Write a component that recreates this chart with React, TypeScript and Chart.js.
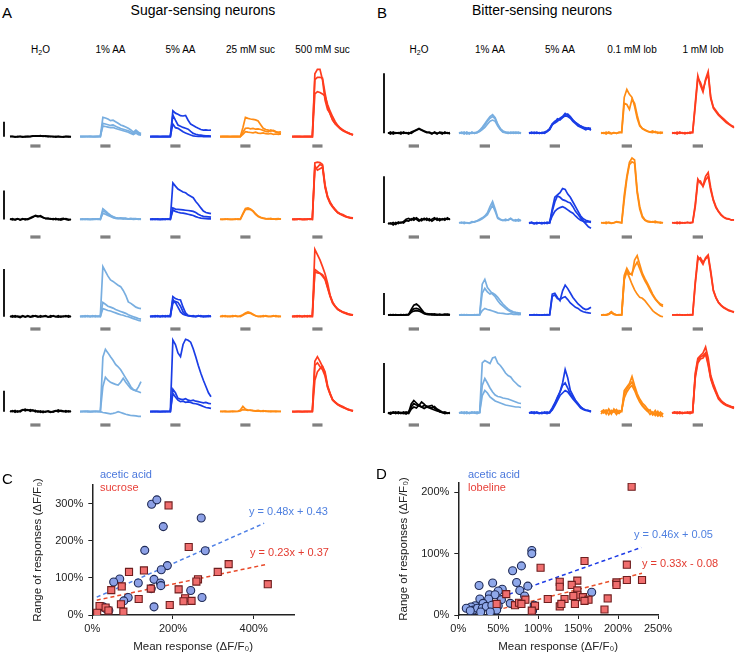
import React, { useEffect, useRef } from "react";
import { Chart, registerables } from "chart.js";

Chart.register(...registerables);

const FONT = '"Liberation Sans", Arial, Helvetica, sans-serif';
Chart.defaults.font.family = FONT;

// ---------- shared trace axis ----------
const timePoints = [0, 1, 2, 3, 4, 5, 6, 7, 8, 9, 10, 11, 12, 13, 14, 15, 16, 17, 18, 19, 20, 21, 22, 23, 24];
const stimWindow = [8, 12];
const scaleBarValue = 100; // % dF/F represented by the vertical scale bar

const sugarStimuli = ["H2O", "1% AA", "5% AA", "25 mM suc", "500 mM suc"];
const bitterStimuli = ["H2O", "1% AA", "5% AA", "0.1 mM lob", "1 mM lob"];
const traceColors = ["#000000", "#78aee0", "#1a3de6", "#ff8c14", "#ff3c1e"];

// ---------- A: sugar-sensing neurons (% dF/F) ----------
const sugarR1_H2O = [
  [0, 3, -2, 2, 0, -3, 2, 0, 2, 5, 4, 6, 3, 5, 2, 4, 0, 3, -2, 2, 0, -3, 2, -1, 0],
  [2, 0, 1, -2, 3, 1, -1, 2, 0, 3, 6, 4, 7, 2, 5, 1, 3, -1, 2, 0, -2, 1, 0, 2, -1],
];
const sugarR1_AA1 = [
  [0, 2, 0, 3, 1, 0, 2, 1, 3, 129, 125, 118, 107, 110, 100, 90, 78, 72, 65, 56, 45, 30, 44, 30, 22],
  [2, 0, 1, 0, 3, 1, 0, 2, 0, 89, 85, 80, 75, 78, 70, 62, 55, 50, 45, 40, 32, 20, 35, 22, 15],
  [0, 1, 3, 0, 2, 0, 1, 3, 2, 71, 68, 64, 60, 62, 55, 50, 45, 40, 35, 30, 22, 15, 25, 14, 10],
];
const sugarR1_AA5 = [
  [0, 1, 0, 2, 0, 1, 0, 2, 1, 173, 157, 150, 140, 138, 142, 110, 84, 75, 65, 56, 48, 44, 45, 43, 44],
  [1, 0, 2, 0, 1, 0, 2, 0, 0, 144, 110, 78, 70, 62, 56, 50, 35, 22, 16, 12, 10, 8, 6, 5, 4],
  [0, 2, 0, 1, 0, 2, 0, 1, 2, 84, 60, 56, 45, 33, 25, 18, 11, 6, 3, 2, 4, 1, 2, 0, 1],
];
const sugarR1_Suc25 = [
  [0, 2, 0, 1, 0, 2, 1, 0, 2, 60, 129, 122, 118, 115, 112, 105, 80, 56, 48, 44, 38, 42, 35, 30, 33],
  [1, 0, 2, 0, 1, 0, 2, 1, 0, 30, 56, 58, 52, 55, 50, 52, 48, 42, 35, 33, 45, 38, 30, 25, 22],
  [0, 1, 0, 2, 0, 1, 0, 2, 1, 15, 33, 30, 28, 26, 30, 24, 22, 25, 20, 18, 22, 15, 18, 16, 18],
];
const sugarR1_Suc500 = [
  [0, 2, 0, 1, 0, 2, 0, 1, 0, 420, 449, 449, 378, 244, 180, 156, 110, 89, 70, 55, 44, 35, 26, 18, 11],
  [1, 0, 2, 0, 1, 0, 2, 0, 0, 380, 396, 396, 390, 290, 200, 150, 110, 85, 68, 52, 40, 32, 24, 17, 12],
  [0, 1, 0, 2, 0, 1, 0, 2, 0, 285, 300, 295, 285, 270, 215, 170, 133, 100, 75, 58, 45, 35, 27, 20, 14],
];

const sugarR2_H2O = [
  [0, 3, -2, 2, 0, 3, -1, 2, 4, 8, 14, 12, 10, 6, 4, 2, 3, 0, 4, -1, 2, 4, 0, -2, 1],
  [2, -1, 1, 3, -2, 1, 2, 0, 6, 10, 12, 9, 13, 8, 3, 5, 1, 3, 0, 2, -2, 1, 3, 1, -1],
];
const sugarR2_AA1 = [
  [0, 2, 0, 1, 0, 2, 1, 0, 2, 37, 30, 22, 15, 10, 7, 5, 4, 5, 3, 2, 4, 2, 3, 1, 2],
  [1, 0, 2, 0, 1, 0, 2, 1, 0, 29, 25, 18, 12, 8, 5, 4, 6, 3, 4, 2, 1, 3, 2, 0, 1],
  [0, 1, 0, 2, 0, 1, 0, 2, 1, 21, 18, 14, 10, 6, 4, 3, 3, 2, 4, 1, 2, 0, 1, 2, 0],
];
const sugarR2_AA5 = [
  [0, 2, 0, 1, 0, 2, 0, 1, 2, 126, 115, 105, 100, 95, 92, 85, 80, 75, 62, 52, 40, 29, 24, 22, 20],
  [1, 0, 2, 0, 1, 0, 2, 0, 1, 40, 36, 35, 34, 33, 32, 31, 30, 28, 24, 18, 14, 11, 10, 9, 8],
  [0, 1, 0, 2, 0, 1, 0, 2, 0, 32, 28, 25, 23, 22, 20, 18, 16, 14, 10, 7, 5, 4, 3, 2, 2],
];
const sugarR2_Suc25 = [
  [0, 1, 0, 2, 0, 1, 0, 2, 1, 20, 38, 40, 36, 30, 20, 12, 8, 5, 3, 2, 4, 1, 2, 3, 1],
  [1, 0, 2, 0, 1, 0, 2, 0, 0, 18, 34, 36, 34, 28, 18, 10, 6, 4, 2, 3, 1, 2, 0, 1, 2],
];
const sugarR2_Suc500 = [
  [0, 1, 0, 2, 0, 1, 0, 2, 1, 195, 198, 196, 190, 120, 80, 60, 46, 35, 25, 20, 17, 12, 8, 7, 6],
  [1, 0, 2, 0, 1, 0, 2, 0, 0, 175, 180, 190, 185, 115, 78, 58, 44, 33, 24, 19, 15, 11, 8, 6, 5],
  [0, 1, 0, 2, 0, 1, 0, 2, 1, 185, 170, 175, 180, 110, 75, 55, 42, 32, 23, 18, 14, 10, 7, 5, 4],
];

const sugarR3_H2O = [
  [0, 2, -1, 1, 0, 2, -1, 1, 0, 2, 1, -1, 2, 0, 1, -1, 2, 1, 0, 2, -1, 1, 0, 2, 0],
  [1, -1, 2, 0, -2, 1, 0, 2, -1, 0, 2, 1, -1, 1, 2, 0, -1, 2, 0, -1, 1, 0, 2, -1, 1],
];
const sugarR3_AA1 = [
  [0, 1, 0, 2, 0, 1, 0, 1, 2, 105, 95, 85, 77, 74, 70, 66, 63, 55, 45, 31, 28, 24, 20, 18, 17],
  [1, 0, 2, 0, 1, 0, 2, 0, 1, 30, 26, 22, 20, 18, 15, 13, 11, 9, 7, 4, 2, 0, -2, -4, -5],
  [0, 1, 0, 1, 0, 2, 0, 1, 0, 17, 15, 13, 12, 10, 8, 6, 4, 3, 1, 0, -2, -4, -6, -8, -9],
];
const sugarR3_AA5 = [
  [0, 1, 0, 2, 0, 1, 0, 2, 1, 42, 38, 36, 35, 20, 8, 3, 2, 1, 0, 2, 1, 0, 1, 2, 0],
  [1, 0, 2, 0, 1, 0, 2, 0, 0, 36, 30, 20, 10, 5, 3, 2, 1, 2, 0, 1, 2, 0, 1, 0, 1],
  [0, 1, 0, 1, 0, 2, 0, 1, 2, 28, 32, 30, 22, 10, 4, 2, 1, 0, 1, 2, 0, 1, 0, 1, 2],
];
const sugarR3_Suc25 = [
  [0, 2, 0, 1, 0, 2, 1, 0, 2, 4, 8, 10, 8, 5, 2, 1, 0, 2, 1, 0, 1, 2, 0, 1, 0],
  [1, 0, 2, 0, 1, 0, 2, 1, 0, 3, 6, 8, 7, 4, 2, 0, 1, 0, 2, 1, 0, 1, 2, 0, 1],
];
const sugarR3_Suc500 = [
  [0, 1, 0, 2, 0, 1, 0, 2, 1, 141, 130, 119, 105, 90, 70, 45, 30, 22, 16, 13, 10, 8, 6, 5, 4],
  [1, 0, 2, 0, 1, 0, 2, 0, 0, 99, 95, 91, 85, 78, 60, 42, 28, 21, 15, 12, 10, 8, 6, 4, 3],
  [0, 1, 0, 1, 0, 2, 0, 1, 2, 94, 92, 91, 88, 80, 62, 44, 30, 22, 16, 12, 9, 7, 5, 4, 3],
];

const sugarR4_H2O = [
  [0, 5, -3, 4, 0, 8, 12, 6, 10, 4, 6, -2, 3, -4, 2, 0, -3, 2, 5, 0, 6, 3, -2, 4, 0],
  [3, 0, 6, -2, 5, 10, 4, 9, 2, 8, 0, 4, -3, 2, -2, 4, 0, -2, 3, 8, 2, 0, 5, -1, 3],
];
const sugarR4_AA1 = [
  [0, 2, 0, 3, 0, 2, 0, 2, 1, 260, 297, 280, 262, 245, 225, 214, 200, 180, 160, 140, 119, 105, 100, 95, 90],
  [0, 1, 2, 0, 1, 0, 2, 0, 1, 120, 164, 150, 140, 135, 130, 127, 140, 159, 140, 125, 110, 103, 100, 118, 143],
  [1, 0, 2, 0, 1, 0, 2, 1, 0, -4, -6, -8, -10, -8, -5, 0, -4, -8, -12, -15, -18, -19, -20, -22, -22],
];
const sugarR4_AA5 = [
  [0, 2, 0, 1, 0, 2, 0, 1, 2, 341, 320, 280, 262, 320, 345, 340, 331, 300, 262, 220, 183, 150, 120, 90, 71],
  [1, 0, 2, 0, 1, 0, 2, 0, 1, 107, 90, 64, 60, 58, 62, 55, 52, 55, 50, 48, 45, 42, 44, 40, 38],
  [0, 1, 0, 2, 0, 1, 0, 2, 0, 87, 70, 55, 48, 50, 45, 47, 44, 40, 38, 35, 30, 25, 20, 18, 16],
];
const sugarR4_Suc25 = [
  [0, 2, 0, 1, 0, 3, 1, 2, 8, 25, 12, 8, 6, 5, 4, 6, 3, 2, 4, 1, 3, 2, 0, 2, 1],
  [2, 0, 3, 1, 2, 0, 2, 1, 4, 10, 8, 6, 8, 5, 3, 4, 2, 5, 1, 3, 0, 2, 3, 1, 2],
];
const sugarR4_Suc500 = [
  [0, 1, 0, 2, 0, 1, 0, 2, 1, 240, 262, 240, 215, 180, 119, 85, 56, 45, 35, 28, 24, 18, 12, 8, 5],
  [1, 0, 2, 0, 1, 0, 2, 0, 1, 150, 190, 205, 217, 190, 125, 88, 58, 46, 36, 29, 22, 16, 11, 7, 4],
  [0, 1, 0, 1, 0, 2, 0, 1, 2, 220, 233, 215, 200, 170, 115, 82, 54, 43, 33, 26, 20, 15, 10, 6, 3],
];

// ---------- B: bitter-sensing neurons (% dF/F) ----------
const bitterR1_H2O = [
  [0, 2, -1, 1, 0, 2, 0, 1, -1, 2, 4, 6, 8, 6, 4, 2, 1, -1, 2, 0, 1, -1, 2, 0, 1],
  [1, -1, 2, 0, 1, -1, 2, 0, 1, 0, 3, 5, 7, 5, 3, 1, 2, 0, 1, -1, 2, 1, 0, 1, -1],
];
const bitterR1_AA1 = [
  [0, 1, -1, 2, 0, 1, 0, 2, 5, 10, 16, 22, 28, 31, 26, 15, 8, 4, 2, 0, 1, 2, 0, 1, 0],
  [1, 0, 2, -1, 1, 0, 1, 1, 4, 8, 14, 20, 25, 28, 24, 14, 7, 3, 1, 2, 0, 1, 2, 0, 1],
  [0, 2, 0, 1, -1, 2, 0, 1, 3, 6, 10, 15, 20, 22, 20, 12, 6, 2, 1, 0, 2, 0, 1, 2, 0],
];
const bitterR1_AA5 = [
  [0, 2, 0, 1, 0, 1, 2, 4, 8, 16, 20, 22, 25, 28, 33, 30, 26, 22, 18, 15, 12, 10, 8, 9, 8],
  [1, 0, 2, 0, 1, 0, 1, 3, 6, 14, 18, 24, 22, 26, 30, 32, 28, 22, 18, 14, 12, 10, 9, 7, 8],
  [0, 1, 0, 2, 0, 1, 0, 3, 7, 15, 17, 20, 24, 27, 29, 28, 25, 20, 16, 12, 10, 8, 6, 8, 5],
];
const bitterR1_Lob01 = [
  [0, 1, -1, 2, 0, 1, 0, 1, 2, 60, 73, 65, 60, 45, 25, 12, 8, 5, 3, 2, 4, 1, 2, 0, 1],
  [1, 0, 2, 0, -1, 1, 0, 2, 1, 50, 48, 40, 57, 50, 30, 14, 8, 6, 4, 2, 1, 3, 0, 2, 1],
];
const bitterR1_Lob1 = [
  [0, 1, -1, 2, 0, 1, 0, 2, 1, 50, 96, 80, 69, 90, 103, 60, 44, 38, 32, 28, 24, 20, 16, 13, 11],
  [1, 0, 2, 0, 1, -1, 1, 0, 2, 45, 92, 85, 72, 88, 98, 58, 42, 36, 30, 26, 22, 18, 15, 12, 9],
];

const bitterR2_H2O = [
  [0, -2, 1, -3, 2, 0, 3, 8, 10, 6, 11, 8, 4, 9, 7, 10, 5, 8, 11, 6, 9, 7, 10, 8, 9],
  [-2, 0, -4, 1, -1, 2, 0, 5, 4, 9, 6, 11, 7, 5, 10, 6, 9, 4, 8, 10, 5, 9, 6, 11, 7],
];
const bitterR2_AA1 = [
  [0, 2, -1, 1, 0, 3, 2, 5, 8, 11, 15, 22, 35, 46, 30, 12, 8, 6, 5, 7, 10, 6, 4, 8, 5],
  [1, 0, 2, 0, -1, 1, 3, 4, 6, 9, 13, 18, 28, 38, 25, 10, 7, 5, 8, 6, 9, 5, 7, 4, 6],
];
const bitterR2_AA5 = [
  [0, 2, -1, 1, 0, -2, 1, 0, 1, 30, 55, 60, 65, 74, 72, 62, 55, 45, 35, 25, 15, 9, 6, 4, 3],
  [1, 0, -2, 1, 0, 1, -1, 2, 0, 25, 45, 58, 55, 50, 48, 45, 43, 35, 25, 18, 11, 4, -2, -8, -11],
  [-1, 1, 0, -2, 1, 0, 1, -1, 2, 15, 25, 30, 33, 35, 32, 28, 24, 21, 15, 10, 6, 4, 2, 3, 1],
];
const bitterR2_Lob01 = [
  [0, 1, -1, 2, 0, 1, 3, 2, 1, 60, 100, 130, 139, 135, 70, 35, 15, 7, 4, 3, 2, 4, 1, 2, 0],
  [1, 0, 2, 0, -1, 0, 2, 1, 0, 50, 95, 125, 131, 128, 65, 30, 12, 6, 3, 2, 3, 1, 2, 0, 1],
];
const bitterR2_Lob1 = [
  [0, 1, -1, 2, 0, 1, 0, 1, 2, 40, 94, 85, 80, 100, 108, 75, 50, 35, 25, 18, 12, 9, 8, 7, 6],
  [1, 0, 2, -1, 1, 0, 2, 0, 1, 35, 88, 90, 78, 92, 100, 70, 48, 33, 24, 17, 13, 10, 9, 6, 7],
];

const bitterR3_H2O = [
  [0, 2, -1, 1, 0, 2, 0, 1, 3, 25, 45, 50, 40, 25, 10, 6, 4, 2, 5, 1, 3, 0, 2, 4, 1],
  [1, 0, 2, 0, 1, -1, 2, 0, 2, 18, 28, 30, 26, 18, 8, 4, 2, 5, 1, 3, 0, 2, 4, 1, 2],
  [0, 1, 0, 2, -1, 1, 0, 2, 1, 12, 18, 20, 18, 12, 6, 3, 4, 1, 2, 0, 3, 1, 0, 2, 1],
];
const bitterR3_AA1 = [
  [0, 1, 0, 2, -1, 1, 0, 2, 1, 140, 162, 125, 110, 95, 83, 65, 50, 40, 30, 22, 15, 10, 8, 7, 6],
  [1, 0, 2, 0, 1, 0, -1, 1, 2, 100, 121, 105, 95, 100, 92, 80, 65, 50, 38, 28, 20, 15, 12, 10, 8],
  [0, 2, 0, 1, 0, -1, 2, 0, 1, 20, 30, 25, 22, 18, 14, 10, 8, 7, 5, 4, 6, 3, 4, 2, 3],
];
const bitterR3_AA5 = [
  [0, 1, 0, 2, -1, 1, 0, 2, 1, 95, 99, 80, 65, 110, 136, 120, 100, 80, 65, 50, 40, 30, 25, 28, 35],
  [1, 0, 2, 0, 1, -1, 2, 0, 1, 85, 91, 75, 70, 78, 83, 70, 55, 45, 35, 30, 20, 15, 12, 10, 8],
];
const bitterR3_Lob01 = [
  [0, 2, 0, 5, 15, 5, 0, 1, 2, 180, 212, 190, 182, 250, 270, 230, 190, 165, 144, 120, 95, 75, 61, 50, 45],
  [1, 0, 2, 4, 12, 4, 1, 0, 1, 170, 200, 185, 190, 220, 240, 210, 180, 155, 135, 110, 90, 72, 58, 45, 38],
  [0, 1, 0, 3, 10, 3, 0, 2, 0, 160, 197, 170, 140, 114, 95, 80, 76, 65, 50, 35, 20, 10, 2, -5, -8],
];
const bitterR3_Lob1 = [
  [0, 1, 0, 2, -1, 1, 0, 2, 1, 150, 265, 250, 230, 260, 273, 200, 114, 80, 58, 45, 35, 28, 22, 18, 15],
  [1, 0, 2, 0, 1, -1, 2, 0, 1, 140, 250, 260, 240, 255, 265, 190, 110, 78, 56, 43, 33, 26, 20, 16, 12],
];

const bitterR4_H2O = [
  [0, -2, 1, -1, 2, 0, -1, 2, 1, 18, 25, 20, 15, 22, 18, 12, 14, 15, 10, 6, 2, 1, -1, 0, 1],
  [-1, 1, 0, 2, -1, 1, 0, -2, 2, 12, 19, 16, 14, 12, 15, 14, 12, 10, 13, 8, 5, 2, 0, -1, 0],
  [1, -1, 2, 0, 1, -1, 2, 0, -1, 8, 12, 10, 16, 12, 9, 12, 10, 8, 6, 4, 3, 1, 2, 0, -1],
];
const bitterR4_AA1 = [
  [0, 1, 0, 2, -1, 1, 0, 2, 1, 100, 105, 102, 99, 110, 112, 100, 95, 88, 80, 75, 72, 65, 60, 55, 52],
  [1, 0, 2, -1, 1, 0, 2, 0, 1, 55, 69, 60, 50, 42, 36, 33, 32, 30, 29, 28, 26, 24, 22, 20, 19],
  [0, 2, -1, 1, 0, 2, 0, -1, 1, 35, 45, 40, 32, 28, 24, 22, 20, 18, 16, 15, 14, 13, 12, 12, 11],
];
const bitterR4_AA5 = [
  [0, 1, -1, 2, 0, 1, 0, -1, 2, 10, 20, 32, 42, 60, 87, 70, 45, 35, 25, 19, 12, 8, 6, 5, 4],
  [1, 0, 2, 0, -1, 1, 0, 2, 0, 8, 18, 30, 42, 55, 60, 50, 38, 32, 25, 18, 12, 8, 6, 5, 3],
  [0, 2, 0, 1, 0, -1, 2, 0, 1, 6, 15, 25, 35, 40, 45, 42, 35, 28, 22, 16, 10, 7, 5, 4, 2],
];
const bitterR4_Lob01 = [
  [2, 6, -2, 8, 0, 4, -3, 5, 3, 45, 52, 59, 73, 55, 39, 28, 20, 15, 8, 4, -2, 5, -4, 2, -3],
  [-2, 4, 6, -3, 5, 2, 7, 0, 4, 38, 48, 55, 62, 50, 35, 24, 16, 10, 5, -3, 2, -5, 3, -6, 0],
  [4, 0, 3, 6, -2, 8, 2, -1, 6, 30, 42, 50, 55, 45, 32, 22, 14, 8, 3, 6, -4, 0, -6, -2, -8],
];
const bitterR4_Lob1 = [
  [0, 1, -1, 2, 0, 1, 0, 2, 1, 80, 109, 115, 120, 132, 110, 75, 59, 45, 32, 25, 20, 17, 15, 13, 12],
  [1, 0, 2, -1, 1, 0, 2, 0, 1, 75, 105, 112, 115, 120, 100, 70, 55, 42, 30, 24, 20, 16, 14, 12, 10],
  [0, 2, 0, 1, -1, 1, 0, -1, 2, 70, 100, 108, 110, 118, 96, 68, 52, 40, 28, 22, 18, 15, 13, 11, 9],
];

const sugarRows = [
  [sugarR1_H2O, sugarR1_AA1, sugarR1_AA5, sugarR1_Suc25, sugarR1_Suc500],
  [sugarR2_H2O, sugarR2_AA1, sugarR2_AA5, sugarR2_Suc25, sugarR2_Suc500],
  [sugarR3_H2O, sugarR3_AA1, sugarR3_AA5, sugarR3_Suc25, sugarR3_Suc500],
  [sugarR4_H2O, sugarR4_AA1, sugarR4_AA5, sugarR4_Suc25, sugarR4_Suc500],
];
const bitterRows = [
  [bitterR1_H2O, bitterR1_AA1, bitterR1_AA5, bitterR1_Lob01, bitterR1_Lob1],
  [bitterR2_H2O, bitterR2_AA1, bitterR2_AA5, bitterR2_Lob01, bitterR2_Lob1],
  [bitterR3_H2O, bitterR3_AA1, bitterR3_AA5, bitterR3_Lob01, bitterR3_Lob1],
  [bitterR4_H2O, bitterR4_AA1, bitterR4_AA5, bitterR4_Lob01, bitterR4_Lob1],
];

// ---------- C: sugar neurons scatter (mean vs range, %) ----------
const aceticMeanC = [147, 160, 176, 270, 130, 280, 186, 171, 68, 53, 114, 153, 169, 170, 146, 244, 89, 78, 272, 153, 27, 41, 34];
const aceticRangeC = [298, 310, 238, 261, 174, 173, 133, 122, 97, 89, 86, 96, 86, 79, 71, 66, 47, 38, 47, 22, 22, 12, 17];
const sucroseMeanC = [189, 239, 338, 311, 262, 258, 128, 91, 73, 47, 145, 214, 435, 115, 230, 226, 246, 192, 71, 77, 18, 12, 33, 40];
const sucroseRangeC = [295, 183, 137, 116, 96, 90, 120, 116, 77, 67, 71, 69, 83, 43, 45, 37, 38, 27, 29, 9, 24, 6, 20, 12];
const fitAceticC = { x: [11, 426], y: [48, 247] };
const fitSucroseC = { x: [11, 435], y: [40, 137] };
const xTicksC = [0, 200, 400];
const yTicksC = [0, 100, 200, 300];

// ---------- D: bitter neurons scatter ----------
const aceticMeanD = [92, 92, 79, 68, 26, 43, 73, 87, 55, 50, 39, 46, 77, 83, 27, 54, 38, 31, 21, 16, 10, 19, 24, 30, 35, 42, 50, 65, 95, 93, 167, 15, 48, 40, 28];
const aceticRangeD = [105, 100, 80, 72, 48, 52, 53, 47, 42, 39, 33, 33, 40, 31, 26, 25, 26, 19, 15, 13, 11, 8, 11, 11, 14, 16, 15, 19, 16, 7, 37, 7, 8, 5, 5];
const lobelineMeanD = [217, 103, 158, 211, 230, 211, 198, 198, 127, 127, 149, 142, 149, 149, 60, 112, 133, 144, 156, 163, 187, 146, 127, 129, 71, 76, 84, 96, 92, 183, 79, 48, 158];
const lobelineRangeD = [209, 77, 88, 82, 57, 57, 53, 49, 54, 46, 56, 49, 40, 33, 34, 26, 26, 31, 29, 25, 27, 18, 14, 18, 16, 20, 25, 15, 7, 9, 18, 18, 23];
const fitAceticD = { x: [14, 229], y: [11, 110] };
const fitLobelineD = { x: [48, 230], y: [8, 68] };
const xTicksD = [0, 50, 100, 150, 200, 250];
const yTicksD = [0, 100, 200];

// ---------- layout ----------
const ROW_TOP = [58, 152, 244, 336];
const ROW_BOTTOM = [152, 244, 336, 432];
const BAR_Y = [146, 237, 329, 425];
const PANELS = [
  {
    key: "A",
    rows: sugarRows,
    stimuli: sugarStimuli,
    starts: [10, 80, 150, 220, 292],
    width: 61,
    baselines: [136.7, 219.5, 316.7, 411.7],
    scalePx: [15, 29, 47.7, 21],
    scaleOffset: 6,
  },
  {
    key: "B",
    rows: bitterRows,
    stimuli: bitterStimuli,
    starts: [388, 459, 529, 601, 672],
    width: 62,
    baselines: [133.3, 223, 315, 413],
    scalePx: [60, 46.7, 22, 50],
    scaleOffset: 4,
  },
];
const PAD_L = 8;
const PAD_R = 2;

const cellPlugin = {
  id: "cellDecor",
  afterDatasetsDraw(chart: any, _args: any, opts: any) {
    const { ctx, chartArea } = chart;
    const xs = chart.scales.x;
    const ys = chart.scales.y;
    ctx.save();
    ctx.fillStyle = "#808080";
    const x1 = xs.getPixelForValue(stimWindow[0]);
    const x2 = xs.getPixelForValue(stimWindow[1]);
    ctx.fillRect(x1, opts.barY - 1.6, x2 - x1, 3.2);
    if (opts.showScale) {
      const y0 = ys.getPixelForValue(0);
      const y1 = ys.getPixelForValue(scaleBarValue);
      const sx = chartArea.left - opts.scaleOffset;
      ctx.strokeStyle = "#000";
      ctx.lineWidth = 1.8;
      ctx.beginPath();
      ctx.moveTo(sx, y0);
      ctx.lineTo(sx, y1);
      ctx.stroke();
    }
    ctx.restore();
  },
};

function TraceCell(props: any) {
  const { left, top, width, height, traces, color, yMin, yMax, barY, showScale, scaleOffset } = props;
  const ref = useRef<HTMLCanvasElement | null>(null);
  useEffect(() => {
    const chart = new Chart(ref.current as HTMLCanvasElement, {
      type: "line",
      data: {
        datasets: traces.map((tr: number[]) => ({
          data: tr.map((v, i) => ({ x: timePoints[i], y: v })),
          borderColor: color,
          borderWidth: 1.7,
          pointRadius: 0,
          fill: false,
          tension: 0,
          clip: false,
        })),
      },
      options: {
        animation: false,
        responsive: false,
        maintainAspectRatio: false,
        events: [],
        layout: { padding: { left: PAD_L, right: PAD_R, top: 0, bottom: 0 } },
        plugins: {
          legend: { display: false },
          tooltip: { enabled: false },
          cellDecor: { barY, showScale, scaleOffset },
        } as any,
        scales: {
          x: { type: "linear", display: false, min: timePoints[0], max: timePoints[timePoints.length - 1] },
          y: { type: "linear", display: false, min: yMin, max: yMax },
        },
      },
      plugins: [cellPlugin as any],
    });
    return () => chart.destroy();
  }, []);
  const w = width + PAD_L + PAD_R;
  return (
    <canvas
      ref={ref}
      width={w}
      height={height}
      style={{ position: "absolute", left: left - PAD_L, top, width: w, height }}
    />
  );
}

const toPoints = (xs: number[], ys: number[]) => xs.map((x, i) => ({ x, y: ys[i] }));

function ScatterPanel(props: any) {
  const { left, width, padTop, xMax, yMax, xTicks, yTicks, circles, squares, fitA, fitB, circleFill, lineA, lineB } = props;
  const ref = useRef<HTMLCanvasElement | null>(null);
  useEffect(() => {
    const tickFont = { family: FONT, size: 11 };
    const titleFont = { family: FONT, size: 11.5 };
    const chart = new Chart(ref.current as HTMLCanvasElement, {
      type: "scatter",
      data: {
        datasets: [
          {
            data: squares,
            pointStyle: "rect",
            pointRadius: 5,
            backgroundColor: "#f06e6e",
            borderColor: "#6e1e1e",
            borderWidth: 1.1,
            order: 1,
          } as any,
          {
            data: circles,
            pointStyle: "circle",
            pointRadius: 4,
            backgroundColor: circleFill,
            borderColor: "#1f2a55",
            borderWidth: 1.1,
            order: 2,
          },
          {
            type: "line",
            data: toPoints(fitA.x, fitA.y),
            borderColor: lineA,
            borderDash: [4, 3],
            borderWidth: 1.5,
            pointRadius: 0,
            order: 3,
          },
          {
            type: "line",
            data: toPoints(fitB.x, fitB.y),
            borderColor: lineB,
            borderDash: [4, 3],
            borderWidth: 1.5,
            pointRadius: 0,
            order: 3,
          },
        ],
      },
      options: {
        animation: false,
        responsive: false,
        maintainAspectRatio: false,
        events: [],
        layout: { padding: { left: 27, top: padTop, right: width - 92.3 - (xMax === 500 ? 201.7 : 199.7), bottom: 12 } },
        plugins: { legend: { display: false }, tooltip: { enabled: false } },
        scales: {
          x: {
            type: "linear",
            min: 0,
            max: xMax,
            afterBuildTicks: (s: any) => {
              s.ticks = xTicks.map((v: number) => ({ value: v }));
            },
            afterFit: (s: any) => {
              s.height = 43;
            },
            grid: { display: true, drawOnChartArea: false, drawTicks: true, tickLength: 4, color: "#222", lineWidth: 1 },
            border: { display: true, color: "#222", width: 1.5 },
            ticks: { font: tickFont, color: "#222", padding: 3, maxRotation: 0, autoSkip: false, callback: (v: any) => v + "%" },
            title: { display: true, text: "Mean response (ΔF/F₀)", font: titleFont, color: "#222", padding: { top: 4, bottom: 4 } },
          },
          y: {
            type: "linear",
            min: 0,
            max: yMax,
            afterBuildTicks: (s: any) => {
              s.ticks = yTicks.map((v: number) => ({ value: v }));
            },
            afterFit: (s: any) => {
              s.width = 65.3;
            },
            grid: { display: true, drawOnChartArea: false, drawTicks: true, tickLength: 4, color: "#222", lineWidth: 1 },
            border: { display: true, color: "#222", width: 1.5 },
            ticks: { font: tickFont, color: "#222", padding: 5, autoSkip: false, callback: (v: any) => v + "%" },
            title: { display: true, text: "Range of responses (ΔF/F₀)", font: titleFont, color: "#222", padding: { top: 4, bottom: 4 } },
          },
        },
      },
    });
    return () => chart.destroy();
  }, []);
  return <canvas ref={ref} width={width} height={210} style={{ position: "absolute", left, top: 460, width, height: 210 }} />;
}

function StimLabel({ text }: { text: string }) {
  if (text === "H2O") {
    return (
      <span>
        H<span style={{ fontSize: 7, position: "relative", top: 2 }}>2</span>O
      </span>
    );
  }
  return <span>{text}</span>;
}

const abs = (left: number, top: number, size: number, extra: any = {}) => ({
  position: "absolute" as const,
  left,
  top,
  fontSize: size,
  lineHeight: `${size}px`,
  whiteSpace: "nowrap" as const,
  ...extra,
});

export default function App() {
  const cells: any[] = [];
  const labels: any[] = [];
  PANELS.forEach((p) => {
    p.stimuli.forEach((s, ci) => {
      const cx = p.starts[ci] + p.width / 2;
      labels.push(
        <div key={`${p.key}-lab-${ci}`} style={abs(cx - 40, 45, 10, { width: 80, textAlign: "center" })}>
          <StimLabel text={s} />
        </div>
      );
    });
    p.rows.forEach((row, ri) => {
      const top = ROW_TOP[ri];
      const height = ROW_BOTTOM[ri] - ROW_TOP[ri];
      const base = p.baselines[ri];
      const k = scaleBarValue / p.scalePx[ri];
      row.forEach((traces, ci) => {
        cells.push(
          <TraceCell
            key={`${p.key}-${ri}-${ci}`}
            left={p.starts[ci]}
            top={top}
            width={p.width}
            height={height}
            traces={traces}
            color={traceColors[ci]}
            yMax={(base - top) * k}
            yMin={-(ROW_BOTTOM[ri] - base) * k}
            barY={BAR_Y[ri] - top}
            showScale={ci === 0}
            scaleOffset={p.scaleOffset}
          />
        );
      });
    });
  });

  return (
    <div
      style={{
        position: "absolute",
        left: 0,
        top: 0,
        width: 735,
        height: 670,
        overflow: "hidden",
        background: "#fff",
        fontFamily: FONT,
        color: "#000",
      }}
    >
      <div style={abs(2, 5, 15)}>A</div>
      <div style={abs(377, 5, 15)}>B</div>
      <div style={abs(103, 3, 14, { width: 200, textAlign: "center" })}>Sugar-sensing neurons</div>
      <div style={abs(442, 3, 14, { width: 200, textAlign: "center" })}>Bitter-sensing neurons</div>
      {labels}
      {cells}

      <ScatterPanel
        left={0}
        width={360}
        padTop={25}
        xMax={500}
        yMax={350}
        xTicks={xTicksC}
        yTicks={yTicksC}
        circles={toPoints(aceticMeanC, aceticRangeC)}
        squares={toPoints(sucroseMeanC, sucroseRangeC)}
        fitA={fitAceticC}
        fitB={fitSucroseC}
        circleFill="#8ca0e6"
        lineA="#4f80e6"
        lineB="#e84a2a"
      />
      <ScatterPanel
        left={366}
        width={369}
        padTop={23}
        xMax={250}
        yMax={215}
        xTicks={xTicksD}
        yTicks={yTicksD}
        circles={toPoints(aceticMeanD, aceticRangeD)}
        squares={toPoints(lobelineMeanD, lobelineRangeD)}
        fitA={fitAceticD}
        fitB={fitLobelineD}
        circleFill="#8fa8ea"
        lineA="#1e3ce6"
        lineB="#e8502a"
      />

      <div style={abs(2, 471, 15)}>C</div>
      <div style={abs(376, 466, 15)}>D</div>
      <div style={abs(100, 469, 11, { color: "#4b78dc" })}>acetic acid</div>
      <div style={abs(100, 482, 11, { color: "#e8413a" })}>sucrose</div>
      <div style={abs(468, 469, 11, { color: "#4b78dc" })}>acetic acid</div>
      <div style={abs(468, 482, 11, { color: "#e8413a" })}>lobeline</div>
      <div style={abs(249, 505.5, 11, { color: "#4f80e0" })}>y = 0.48x + 0.43</div>
      <div style={abs(250, 546.5, 11, { color: "#e33b30" })}>y = 0.23x + 0.37</div>
      <div style={abs(634, 529, 11, { color: "#4f80e0" })}>y = 0.46x + 0.05</div>
      <div style={abs(642, 557.5, 11, { color: "#e33b30" })}>y = 0.33x - 0.08</div>
    </div>
  );
}
